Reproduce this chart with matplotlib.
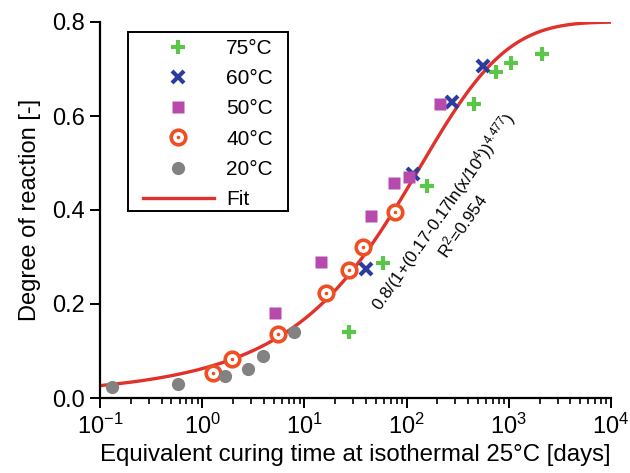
import numpy as np
import matplotlib
matplotlib.use("Agg")
import matplotlib.pyplot as plt
from matplotlib.patches import Rectangle

plt.rcParams['font.family'] = ['Liberation Sans', 'DejaVu Sans']
plt.rcParams['mathtext.default'] = 'regular'
plt.rcParams['axes.unicode_minus'] = False

# data (x in days, y degree of reaction)
t75 = [27.3, 58.4, 157, 454, 750, 1059, 2099]
a75 = [0.140, 0.288, 0.452, 0.625, 0.694, 0.712, 0.732]

t60 = [40.1, 116, 276, 556]
a60 = [0.274, 0.476, 0.630, 0.706]

t50 = [5.19, 14.5, 45.2, 75.8, 105.5, 212]
a50 = [0.180, 0.289, 0.387, 0.457, 0.470, 0.625]

t40 = [1.27, 1.97, 5.48, 16.3, 27.3, 37.7, 76.5]
a40 = [0.054, 0.082, 0.136, 0.224, 0.272, 0.321, 0.395]

t20 = [0.131, 0.58, 1.67, 2.81, 3.93, 7.91]
a20 = [0.023, 0.030, 0.047, 0.062, 0.089, 0.140]

# fit parameters as written on the chart
a_max = 0.8
c1 = 0.17
c2 = 0.17
x_ref = 1e4
n_exp = 4.477

green = '#5bc64a'
blue = '#2b3c9c'
purple = '#b84aae'
orange = '#f04e23'
grey = '#828282'
red = '#e0312a'

fig = plt.figure(figsize=(6.3, 4.73), dpi=100)
ax = fig.add_axes([100/630, 1 - 398/473, 511/630, 376/473])

xf = np.logspace(-1, 4, 400)
yf = a_max / (1 + (c1 - c2 * np.log(xf / x_ref)) ** n_exp)
fit_line, = ax.plot(xf, yf, color=red, lw=2.4, zorder=2)

h75, = ax.plot(t75, a75, ls='none', marker='+', ms=9.5, mew=3, color=green, zorder=3)
h60, = ax.plot(t60, a60, ls='none', marker='x', ms=9, mew=3, color=blue, zorder=3)
h50, = ax.plot(t50, a50, ls='none', marker='s', ms=9, color=purple, mec='none', zorder=3)
h40a, = ax.plot(t40, a40, ls='none', marker='o', ms=10.5, mfc='white', mec=orange, mew=2.6, zorder=3)
h40b, = ax.plot(t40, a40, ls='none', marker='o', ms=2.6, color=orange, mec='none', zorder=4)
h20, = ax.plot(t20, a20, ls='none', marker='o', ms=9.5, color=grey, mec='none', zorder=3)

ax.set_xscale('log')
ax.set_xlim(0.1, 1e4)
ax.set_ylim(0, 0.8)
ax.set_yticks([0.0, 0.2, 0.4, 0.6, 0.8])
ax.set_yticklabels(['0.0', '0.2', '0.4', '0.6', '0.8'])

for s in ['top', 'right']:
    ax.spines[s].set_visible(False)
for s in ['left', 'bottom']:
    ax.spines[s].set_linewidth(1.6)

ax.tick_params(which='major', direction='out', length=7, width=1.4, labelsize=17, pad=4)
ax.tick_params(which='minor', direction='out', length=4, width=1.2)
ax.tick_params(axis='y', which='minor', left=False)

ax.set_xlabel('Equivalent curing time at isothermal 25°C [days]', fontsize=17.3, labelpad=4)
ax.set_ylabel('Degree of reaction [-]', fontsize=17, labelpad=8)

# legend without its own frame, box drawn separately to get the wide padding
leg = ax.legend([h75, h60, h50, (h40a, h40b), h20, fit_line],
                ['75°C', '60°C', '50°C', '40°C', '20°C', 'Fit'],
                loc='upper left', bbox_to_anchor=(0.084, 0.955), fontsize=15,
                frameon=False, handlelength=3.4, handletextpad=0.6,
                labelspacing=0.54, borderpad=0.0, borderaxespad=0.0,
                markerscale=1.0)
leg.set_zorder(6)
box = Rectangle((0.0548, 0.497), 0.3131, 0.476, transform=ax.transAxes,
                facecolor='white', edgecolor='black', lw=1.4, zorder=5, clip_on=False)
ax.add_patch(box)

ax.text(0.689, 0.479, r'0.8/(1+(0.17-0.17ln(x/10$^4$))$^{4.477}$)' + '\n' + r'R$^2$=0.954',
        transform=ax.transAxes, rotation=55, fontsize=12.2, ha='center', va='center',
        multialignment='center', rotation_mode='anchor', linespacing=1.15)

fig.savefig('out.png', dpi=100)
